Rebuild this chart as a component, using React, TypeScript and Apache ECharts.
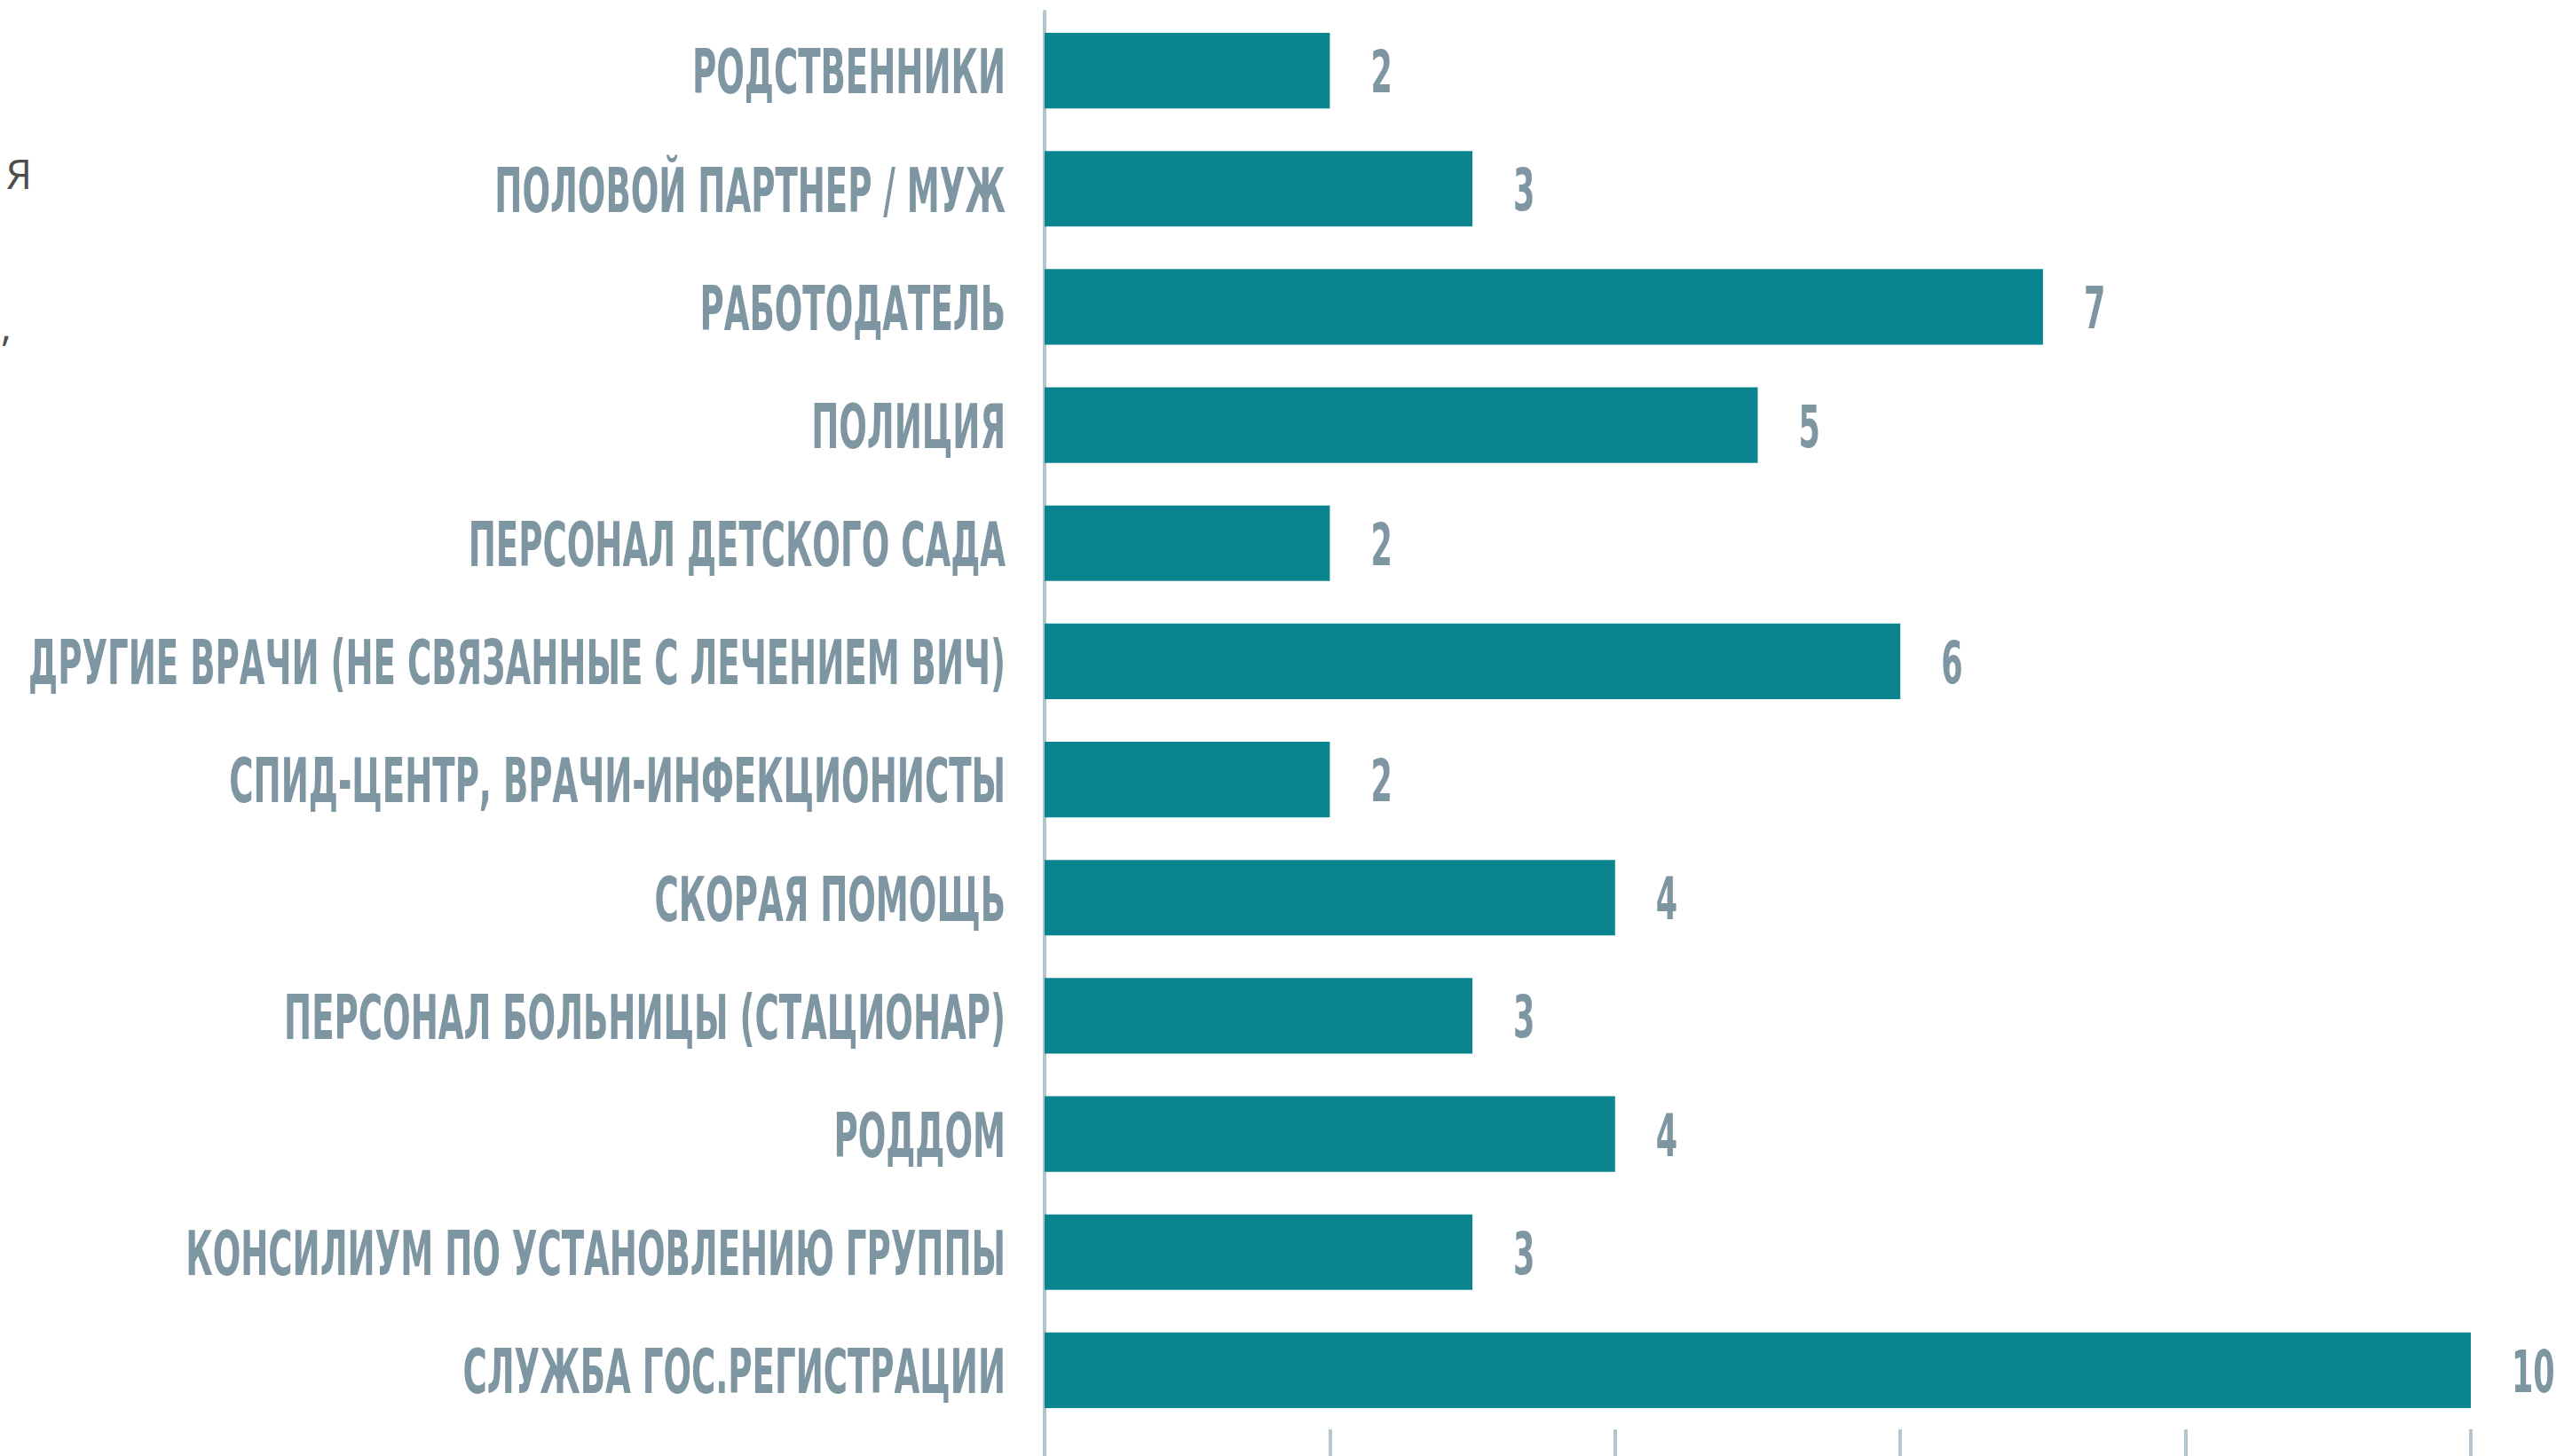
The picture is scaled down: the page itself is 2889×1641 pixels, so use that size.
import React, { useEffect, useRef } from "react";
import * as echarts from "echarts";

const categories = [
  "РОДСТВЕННИКИ",
  "ПОЛОВОЙ ПАРТНЕР / МУЖ",
  "РАБОТОДАТЕЛЬ",
  "ПОЛИЦИЯ",
  "ПЕРСОНАЛ ДЕТСКОГО САДА",
  "ДРУГИЕ ВРАЧИ (НЕ СВЯЗАННЫЕ С ЛЕЧЕНИЕМ ВИЧ)",
  "СПИД-ЦЕНТР, ВРАЧИ-ИНФЕКЦИОНИСТЫ",
  "СКОРАЯ ПОМОЩЬ",
  "ПЕРСОНАЛ БОЛЬНИЦЫ (СТАЦИОНАР)",
  "РОДДОМ",
  "КОНСИЛИУМ ПО УСТАНОВЛЕНИЮ ГРУППЫ",
  "СЛУЖБА ГОС.РЕГИСТРАЦИИ",
];

const values = [2, 3, 7, 5, 2, 6, 2, 4, 3, 4, 3, 10];

const strayTexts = ["Я", ","];

const FONT = "'DejaVu Sans Condensed', 'DejaVu Sans', sans-serif";
const LABEL_COLOR = "#7e95a2";
const BAR_COLOR = "#0a848f";
const AXIS_COLOR = "#b3c5ce";
const SQUEEZE = 0.59;

export default function App() {
  const ref = useRef<HTMLDivElement>(null);

  useEffect(() => {
    if (!ref.current) return;
    const chart = echarts.init(ref.current, undefined, { renderer: "svg" });
    chart.setOption({
      animation: false,
      backgroundColor: "#ffffff",
      grid: {
        left: 1177,
        right: 105,
        top: 13,
        bottom: 30,
        containLabel: false,
        outerBoundsMode: "none",
      },
      xAxis: {
        type: "value",
        min: 0,
        max: 10,
        interval: 2,
        axisLine: { show: false },
        axisTick: {
          show: true,
          length: 31,
          lineStyle: { color: AXIS_COLOR, width: 4 },
        },
        axisLabel: { show: false },
        splitLine: { show: false },
      },
      yAxis: {
        type: "category",
        data: categories,
        inverse: true,
        axisLine: { show: true, lineStyle: { color: AXIS_COLOR, width: 4 } },
        axisTick: { show: false },
        axisLabel: { show: false },
      },
      series: [
        {
          type: "bar",
          data: values,
          barCategoryGap: "36%",
          itemStyle: { color: BAR_COLOR },
        },
        {
          type: "custom",
          clip: false,
          silent: true,
          data: values.map((v, i) => [v, i]),
          encode: { x: 0, y: 1 },
          renderItem: (params: any, api: any) => {
            const v = api.value(0);
            const idx = api.value(1);
            const start = api.coord([0, idx]);
            const end = api.coord([v, idx]);
            return {
              type: "group",
              children: [
                {
                  type: "text",
                  x: start[0] - 44,
                  y: start[1] + 2,
                  scaleX: SQUEEZE,
                  style: {
                    text: categories[idx],
                    fill: LABEL_COLOR,
                    font: `bold 70px ${FONT}`,
                    align: "right",
                    verticalAlign: "middle",
                  },
                },
                {
                  type: "text",
                  x: end[0] + 46,
                  y: end[1] + 2,
                  scaleX: SQUEEZE,
                  style: {
                    text: String(v),
                    fill: LABEL_COLOR,
                    font: `bold 66px ${FONT}`,
                    align: "left",
                    verticalAlign: "middle",
                  },
                },
              ],
            };
          },
        },
      ],
      graphic: [
        {
          type: "text",
          left: 7,
          top: 172,
          style: {
            text: strayTexts[0],
            fill: "#4d4d4d",
            font: "46px 'Open Sans', sans-serif",
          },
        },
        {
          type: "text",
          left: 1,
          top: 343,
          style: {
            text: strayTexts[1],
            fill: "#4d4d4d",
            font: "46px 'Open Sans', sans-serif",
          },
        },
      ],
    });
    return () => chart.dispose();
  }, []);

  return (
    <div
      ref={ref}
      style={{ position: "fixed", left: 0, top: 0, width: 2889, height: 1641 }}
    />
  );
}
